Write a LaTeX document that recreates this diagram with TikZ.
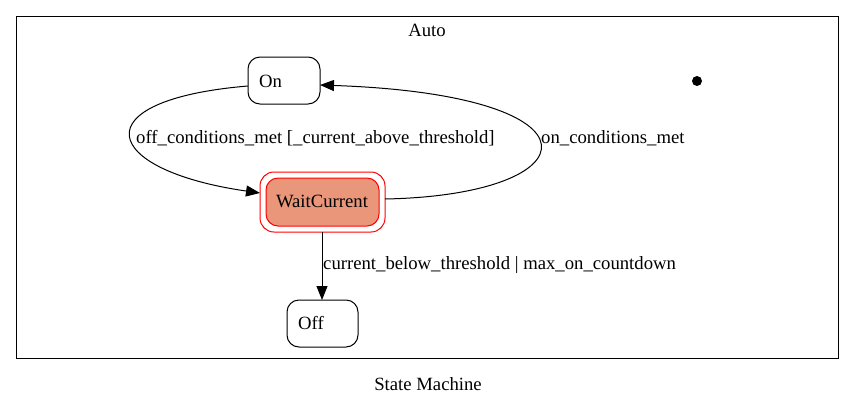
\documentclass[tikz,border=0pt]{standalone}
\usepackage{fontspec}
\setmainfont{Liberation Serif}
\usetikzlibrary{arrows.meta}
\definecolor{salmonfill}{HTML}{E9967A}
\begin{document}
\begin{tikzpicture}[x=1pt,y=-1pt,
  every node/.style={font=\fontsize{18.7}{21}\selectfont, inner sep=0pt},
  statebox/.style={draw=black, line width=1pt, rounded corners=12pt},
  edge/.style={draw=black, line width=1pt, -{Triangle[length=14pt,width=11pt]}},
  lbl/.style={anchor=west}]
\useasboundingbox (0,0) rectangle (855,405);
% cluster
\draw[line width=1pt] (16,16) rectangle (838,358);
\node (auto) at (427,30) {Auto};
\node (title) at (428,384) {State Machine};
% states
\draw[statebox] (248,57) rectangle (320,104);
\coordinate (onL) at (248,86);
\coordinate (onR) at (320,85);
\node[anchor=west] (ontxt) at (259,81) {On};
\draw[draw=red, line width=1pt, rounded corners=14pt] (260,172) rectangle (385,232);
\draw[draw=red, fill=salmonfill, line width=1pt, rounded corners=12pt] (266,178) rectangle (379,226);
\node (wait) at (322,201) {WaitCurrent};
\coordinate (waitL) at (260,193);
\coordinate (waitR) at (385,199);
\coordinate (waitB) at (322,232);
\draw[statebox] (287,300) rectangle (358,347);
\node[anchor=west] (offtxt) at (298,323) {Off};
\coordinate (offT) at (322,300);
% initial dot
\fill (697,81) circle (5);
% edges
\draw[edge] (onL) .. controls (80,100) and (100,170) .. (waitL);
\draw[edge] (waitR) .. controls (592,195) and (612,95) .. (onR);
\draw[edge] (waitB) -- (offT);
% labels
\node[lbl] (l1) at (136,138) {off\_conditions\_met [\_current\_above\_threshold]};
\node[lbl] (l2) at (541,138) {on\_conditions\_met};
\node[lbl] (l3) at (323,265) {current\_below\_threshold | max\_on\_countdown};
\end{tikzpicture}
\end{document}
